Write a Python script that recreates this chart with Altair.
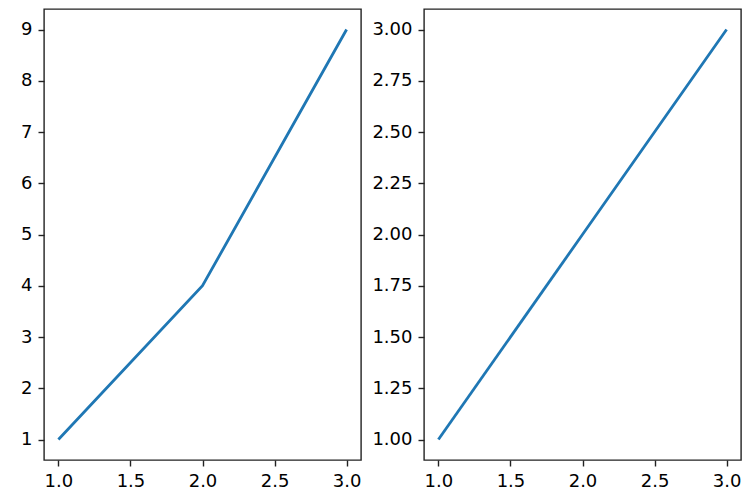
import altair as alt
import pandas as pd

x_vals = [1, 2, 3]
left_y = [1, 4, 9]
right_y = [1, 2, 3]

x_ticks = [1.0, 1.5, 2.0, 2.5, 3.0]
left_y_ticks = [1, 2, 3, 4, 5, 6, 7, 8, 9]
right_y_ticks = [1.0, 1.25, 1.5, 1.75, 2.0, 2.25, 2.5, 2.75, 3.0]

df_left = pd.DataFrame({"x": x_vals, "y": left_y})
df_right = pd.DataFrame({"x": x_vals, "y": right_y})

FONT = "DejaVu Sans"
AX = dict(labelFont=FONT, labelFontSize=18, labelColor="black", labelPadding=6,
          grid=False, domain=False, tickColor="#222222", tickSize=6, tickWidth=1.4,
          title=None)

def panel(df, ydomain, yticks, yfmt):
    return alt.Chart(df).mark_line(color="#1f77b4", strokeWidth=2.8).encode(
        x=alt.X("x:Q", scale=alt.Scale(domain=[0.9, 3.1], nice=False, zero=False),
                axis=alt.Axis(values=x_ticks, format=".1f", **AX)),
        y=alt.Y("y:Q", scale=alt.Scale(domain=ydomain, nice=False, zero=False),
                axis=alt.Axis(values=yticks, format=yfmt, **AX)),
    ).properties(width=317, height=451)

left = panel(df_left, [0.6, 9.4], left_y_ticks, "d")
right = panel(df_right, [0.9, 3.1], right_y_ticks, ".2f")

chart = alt.hconcat(left, right, spacing=9).properties(
    padding={"left": 11, "top": 0, "right": 0, "bottom": 0}
).configure_view(
    stroke="#222222", strokeWidth=1.4
)

chart.save("out.html", embed_options={"renderer": "svg", "actions": False})
